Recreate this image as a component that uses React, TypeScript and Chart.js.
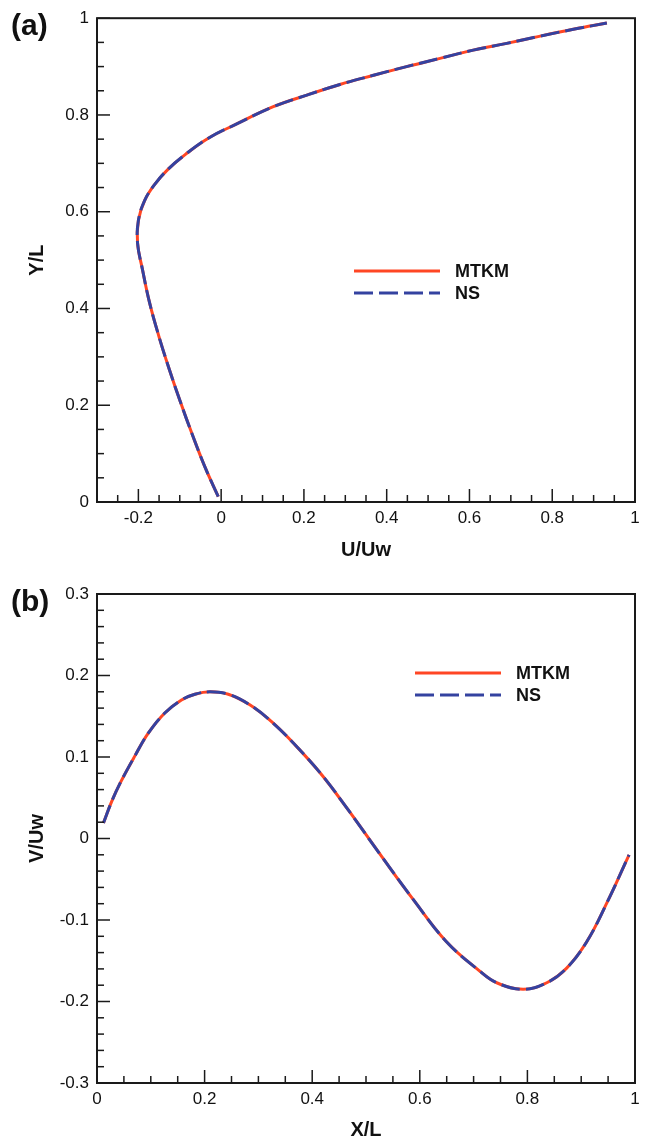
import React, { useEffect, useRef } from 'react';
import { Chart, registerables } from 'chart.js';

Chart.register(...registerables);

const FONT = '"Liberation Sans", Arial, Helvetica, sans-serif';

// ---- Panel (a): U/Uw along vertical centre line ----
const profileU = [-0.007, -0.039, -0.07, -0.099, -0.126, -0.151, -0.173, -0.19, -0.202, -0.2, -0.185, -0.16, -0.128, -0.087, -0.031, 0.034, 0.126, 0.207, 0.287, 0.368, 0.448, 0.529, 0.609, 0.69, 0.771, 0.851, 0.932];
const profileY = [0.011, 0.072, 0.14, 0.208, 0.276, 0.344, 0.412, 0.48, 0.535, 0.582, 0.623, 0.657, 0.688, 0.718, 0.752, 0.78, 0.817, 0.841, 0.863, 0.882, 0.9, 0.917, 0.934, 0.948, 0.963, 0.977, 0.99];

// ---- Panel (b): V/Uw along horizontal centre line ----
const profileX = [0.012, 0.027, 0.043, 0.071, 0.095, 0.126, 0.157, 0.182, 0.21, 0.244, 0.284, 0.325, 0.368, 0.418, 0.467, 0.529, 0.588, 0.65, 0.712, 0.743, 0.792, 0.836, 0.873, 0.91, 0.947, 0.989];
const profileV = [0.019, 0.045, 0.068, 0.102, 0.129, 0.154, 0.17, 0.177, 0.18, 0.177, 0.164, 0.143, 0.115, 0.078, 0.035, -0.022, -0.075, -0.127, -0.163, -0.177, -0.185, -0.177, -0.159, -0.127, -0.08, -0.02];

const seriesNames = ['MTKM', 'NS'];

const ticksAX = [-0.2, 0, 0.2, 0.4, 0.6, 0.8, 1];
const ticksAY = [0, 0.2, 0.4, 0.6, 0.8, 1];
const ticksBX = [0, 0.2, 0.4, 0.6, 0.8, 1];
const ticksBY = [-0.3, -0.2, -0.1, 0, 0.1, 0.2, 0.3];

const RED = 'rgb(255,70,36)';
const BLUE = 'rgb(52,66,160)';
const INK = '#111';

const fmt = (v: number) => String(Number(Number(v).toFixed(2)));

const framePlugin = {
  id: 'frame',
  afterDraw(chart: any, _args: any, opts: any) {
    const { ctx, chartArea: a } = chart;
    const xs = chart.scales.x;
    const ys = chart.scales.y;
    ctx.save();
    ctx.strokeStyle = '#1a1a1a';
    ctx.lineWidth = 2;
    ctx.setLineDash([]);
    ctx.strokeRect(a.left, a.top, a.right - a.left, a.bottom - a.top);

    ctx.lineWidth = 1.5;
    const drawTicks = (scale: any, step: number, majors: number[], horizontal: boolean) => {
      const min = scale.min;
      const max = scale.max;
      const n = Math.round((max - min) / step);
      for (let i = 0; i <= n; i++) {
        const v = min + i * step;
        const isMajor = majors.some((m) => Math.abs(m - v) < 1e-9);
        const len = isMajor ? 13 : 7;
        const p = scale.getPixelForValue(v);
        ctx.beginPath();
        if (horizontal) {
          ctx.moveTo(p, a.bottom);
          ctx.lineTo(p, a.bottom - len);
        } else {
          ctx.moveTo(a.left, p);
          ctx.lineTo(a.left + len, p);
        }
        ctx.stroke();
      }
    };
    drawTicks(xs, opts.xMinor, opts.xMajor, true);
    drawTicks(ys, opts.yMinor, opts.yMajor, false);

    // legend
    const lx = opts.legendX;
    let ly = opts.legendY;
    ctx.font = `bold 18px ${FONT}`;
    ctx.textBaseline = 'middle';
    ctx.textAlign = 'left';
    chart.data.datasets.forEach((ds: any) => {
      ctx.strokeStyle = ds.borderColor;
      ctx.lineWidth = 3;
      ctx.setLineDash(ds.borderDash || []);
      ctx.beginPath();
      ctx.moveTo(lx, ly);
      ctx.lineTo(lx + 86, ly);
      ctx.stroke();
      ctx.setLineDash([]);
      ctx.fillStyle = INK;
      ctx.fillText(ds.label, lx + 101, ly + 1);
      ly += 22;
    });

    // panel label
    ctx.font = `bold 30px ${FONT}`;
    ctx.fillStyle = INK;
    ctx.fillText(opts.panelLabel, 11, opts.panelLabelY);
    ctx.restore();
  },
};

type Panel = {
  panelLabel: string;
  xs: number[];
  ys: number[];
  xMin: number;
  xMax: number;
  yMin: number;
  yMax: number;
  xMajor: number[];
  yMajor: number[];
  xMinor: number;
  yMinor: number;
  xTitle: string;
  yTitle: string;
  height: number;
  padTop: number;
  xAxisH: number;
  xTitlePad: number;
  legendX: number;
  legendY: number;
  panelLabelY: number;
};

function ChartPanel({ p }: { p: Panel }) {
  const ref = useRef<HTMLCanvasElement | null>(null);
  useEffect(() => {
    if (!ref.current) return;
    const pts = p.xs.map((x, i) => ({ x, y: p.ys[i] }));
    const chart = new Chart(ref.current, {
      type: 'scatter',
      data: {
        datasets: [
          {
            label: seriesNames[0],
            data: pts,
            showLine: true,
            borderColor: RED,
            backgroundColor: RED,
            borderWidth: 3,
            pointRadius: 0,
            tension: 0.4,
            order: 2,
          },
          {
            label: seriesNames[1],
            data: pts,
            showLine: true,
            borderColor: BLUE,
            backgroundColor: BLUE,
            borderWidth: 3,
            borderDash: [19, 6],
            pointRadius: 0,
            tension: 0.4,
            order: 1,
          },
        ],
      },
      options: {
        animation: false,
        responsive: false,
        events: [],
        layout: { padding: { top: p.padTop, right: 16, left: 0, bottom: 0 } },
        plugins: {
          legend: { display: false },
          tooltip: { enabled: false },
          frame: {
            panelLabel: p.panelLabel,
            panelLabelY: p.panelLabelY,
            legendX: p.legendX,
            legendY: p.legendY,
            xMajor: p.xMajor,
            yMajor: p.yMajor,
            xMinor: p.xMinor,
            yMinor: p.yMinor,
          },
        } as any,
        scales: {
          x: {
            type: 'linear',
            min: p.xMin,
            max: p.xMax,
            afterFit: (s: any) => {
              s.height = p.xAxisH;
            },
            afterBuildTicks: (s: any) => {
              s.ticks = p.xMajor.map((v) => ({ value: v }));
            },
            grid: { display: false, drawTicks: false },
            border: { display: false },
            ticks: {
              color: INK,
              font: { size: 17, family: FONT },
              padding: 6,
              maxRotation: 0,
              autoSkip: false,
              callback: (v: any) => fmt(v),
            },
            title: {
              display: true,
              text: p.xTitle,
              color: INK,
              font: { size: 20, weight: 'bold', family: FONT },
              padding: { top: 0, bottom: p.xTitlePad },
            },
          },
          y: {
            type: 'linear',
            min: p.yMin,
            max: p.yMax,
            afterFit: (s: any) => {
              s.width = 97;
            },
            afterBuildTicks: (s: any) => {
              s.ticks = p.yMajor.map((v) => ({ value: v }));
            },
            grid: { display: false, drawTicks: false },
            border: { display: false },
            ticks: {
              color: INK,
              font: { size: 17, family: FONT },
              padding: 8,
              autoSkip: false,
              callback: (v: any) => fmt(v),
            },
            title: {
              display: true,
              text: p.yTitle,
              color: INK,
              font: { size: 20, weight: 'bold', family: FONT },
              padding: { top: 25, bottom: 0 },
            },
          },
        },
      } as any,
      plugins: [framePlugin as any],
    });
    return () => chart.destroy();
  }, [p]);
  return <canvas ref={ref} width={651} height={p.height} style={{ display: 'block' }} />;
}

const panelA: Panel = {
  panelLabel: '(a)',
  xs: profileU,
  ys: profileY,
  xMin: -0.3,
  xMax: 1,
  yMin: 0,
  yMax: 1,
  xMajor: ticksAX,
  yMajor: ticksAY,
  xMinor: 0.05,
  yMinor: 0.05,
  xTitle: 'U/Uw',
  yTitle: 'Y/L',
  height: 570,
  padTop: 12,
  xAxisH: 68,
  xTitlePad: 8,
  legendX: 354,
  legendY: 271,
  panelLabelY: 27,
};

const panelB: Panel = {
  panelLabel: '(b)',
  xs: profileX,
  ys: profileV,
  xMin: 0,
  xMax: 1,
  yMin: -0.3,
  yMax: 0.3,
  xMajor: ticksBX,
  yMajor: ticksBY,
  xMinor: 0.05,
  yMinor: 0.02,
  xTitle: 'X/L',
  yTitle: 'V/Uw',
  height: 572,
  padTop: 24,
  xAxisH: 59,
  xTitlePad: 0,
  legendX: 415,
  legendY: 103,
  panelLabelY: 33,
};

export default function App() {
  return (
    <div style={{ position: 'absolute', left: 0, top: 0, width: 651, height: 1142, background: '#fff' }}>
      <ChartPanel p={panelA} />
      <ChartPanel p={panelB} />
    </div>
  );
}
